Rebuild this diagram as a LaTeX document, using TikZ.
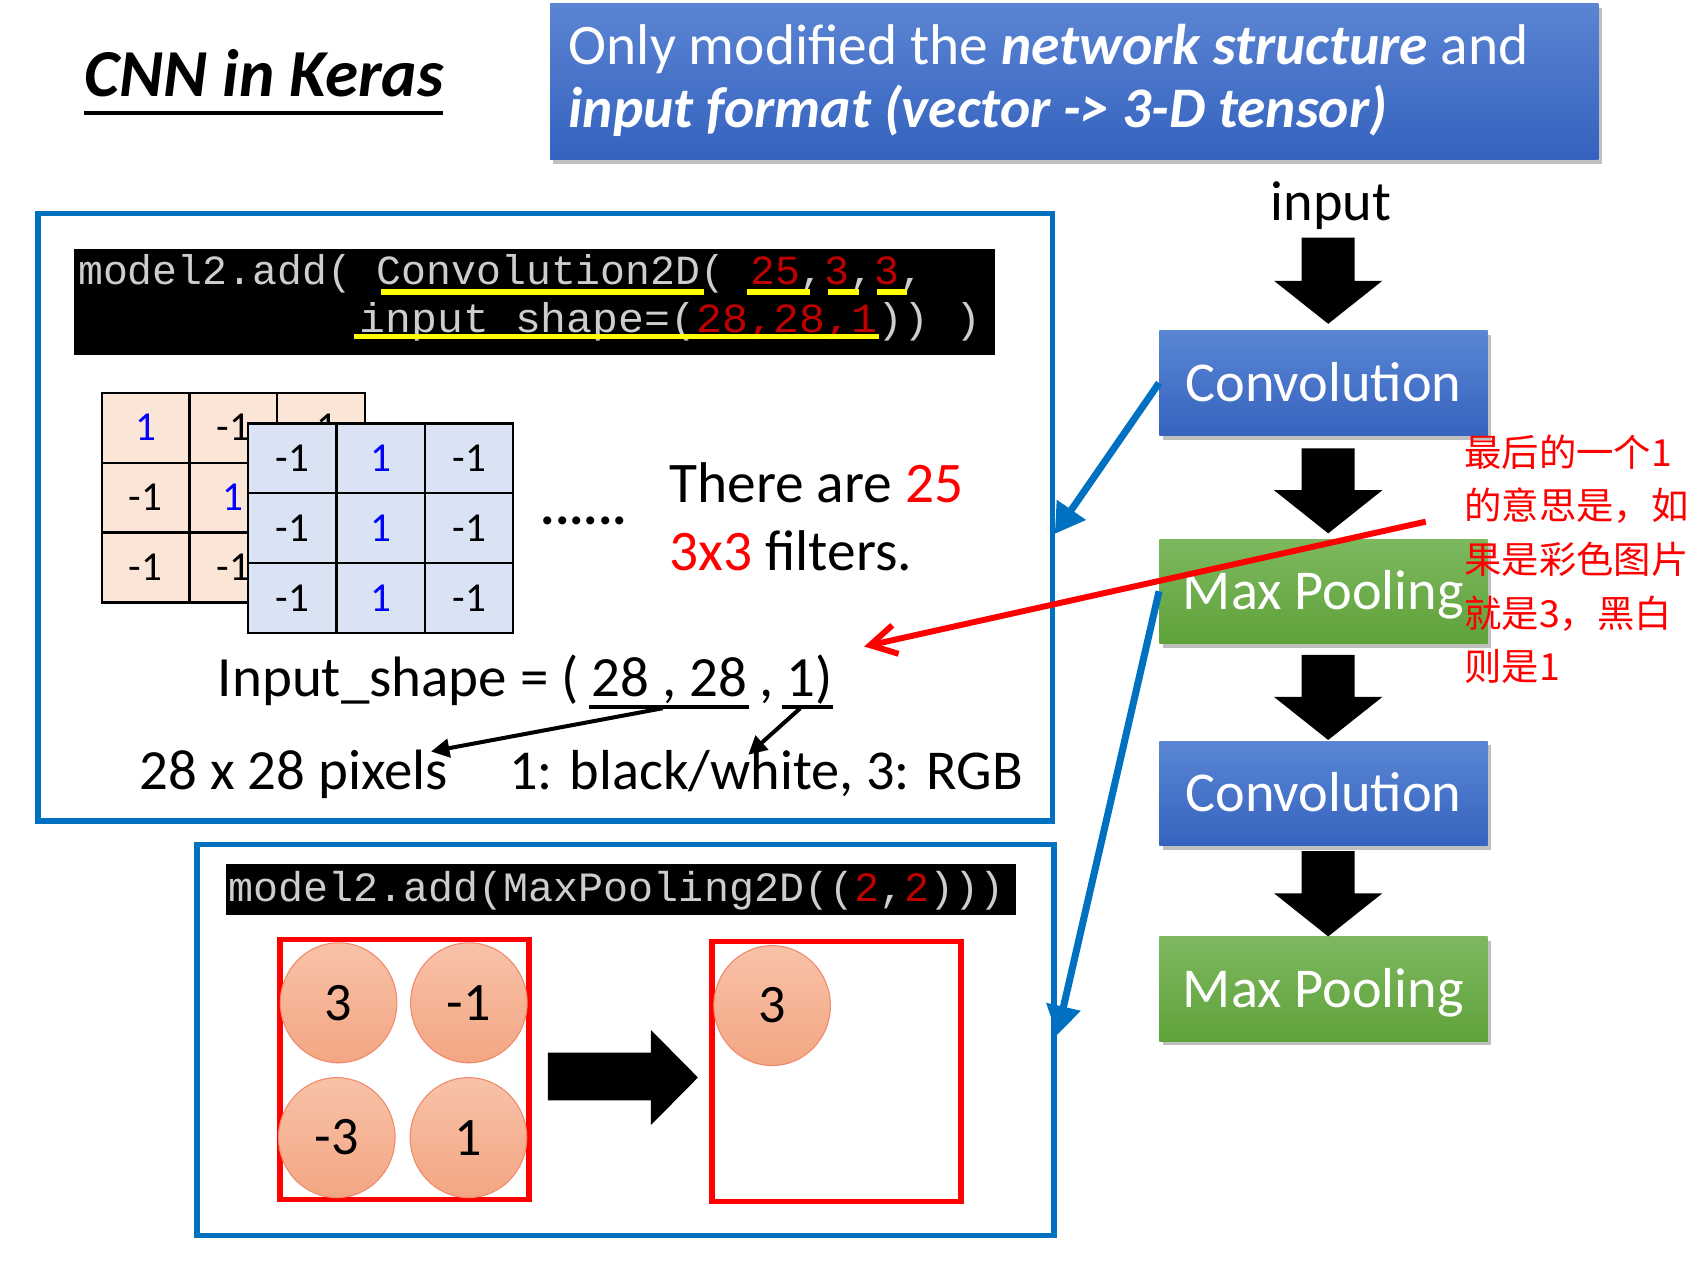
\documentclass[tikz,border=0pt]{standalone}
\usepackage{graphicx}
\usepackage{fontspec}
\setmainfont{Carlito}
\newfontfamily\codefont{Liberation Mono}
\newfontfamily\cjkfont{Noto Sans CJK SC}
\usetikzlibrary{arrows.meta,shapes.geometric,shadows}
\newcommand\myfs[1]{\fontsize{#1}{#1}\selectfont}
\definecolor{panelblue}{HTML}{0070C0}
\definecolor{bluetop}{HTML}{5A86D4}
\definecolor{bluebot}{HTML}{3663BE}
\definecolor{greentop}{HTML}{7DB85F}
\definecolor{greenbot}{HTML}{5FA23A}
\definecolor{hdrtop}{HTML}{5B84D2}
\definecolor{hdrbot}{HTML}{3462BF}
\definecolor{peach}{HTML}{FBE5D6}
\definecolor{lightblue}{HTML}{DAE3F3}
\definecolor{codegray}{HTML}{CDCDCD}
\definecolor{codered}{HTML}{C00000}
\definecolor{elltop}{HTML}{F8C2A8}
\definecolor{ellbot}{HTML}{F3A683}
\definecolor{elldraw}{HTML}{F08A6A}
\definecolor{yellowline}{HTML}{FFFF00}
\newcommand\blkdown[3]{\fill (1202,#1) -- (1251,#1) -- (1251,#2) -- (1276.5,#2) -- (1226.5,#3) -- (1176.5,#2) -- (1202,#2) -- cycle;}
\newcommand\cellval[1]{\ifnum#1=1 \textcolor{blue}{1}\else #1\fi}
\begin{document}
\begin{tikzpicture}[x=1pt,y=-1pt,
  txt/.style={inner sep=0pt, anchor=base west},
  panel/.style={draw=panelblue, line width=5.2pt},
  flowbox/.style={minimum width=303.2pt, minimum height=96.5pt, inner sep=0pt, text=white,
     font=\myfs{52}, text height=34pt, text depth=0pt,
     drop shadow={shadow xshift=3pt, shadow yshift=-4pt, fill=black, opacity=0.25}},
  convbox/.style={flowbox, top color=bluetop, bottom color=bluebot},
  poolbox/.style={flowbox, top color=greentop, bottom color=greenbot},
  cellA/.style={draw=black, line width=2pt, fill=peach, minimum width=81pt, minimum height=64.6pt, inner sep=0pt, font=\myfs{38}},
  cellB/.style={draw=black, line width=2pt, fill=lightblue, minimum width=81.7pt, minimum height=64.6pt, inner sep=0pt, font=\myfs{38}},
  ell/.style={ellipse, draw=elldraw, line width=1pt, top color=elltop, bottom color=ellbot, minimum width=107.6pt, minimum height=110.8pt, inner sep=0pt, font=\myfs{50}},
  bluearrow/.style={draw=panelblue, line width=6.5pt, -{Triangle[length=27pt,width=31pt]}},
  blackarrow/.style={draw=black, line width=3.7pt, -{Triangle[length=17pt,width=17pt]}},
  code/.style={txt, text=codegray, font=\codefont\myfs{38.3}},
  zh/.style={txt, text=red, font=\cjkfont\myfs{34.5}}
]
\useasboundingbox (0,0) rectangle (1568,1167);

% title
\node[txt, font=\myfs{62}\bfseries\itshape] (title) at (78,89.3) {CNN in Keras};
\draw[line width=3pt] (title.base west) ++(0,15) -- ++(331.5,0);

% header box
\node[minimum width=968pt, minimum height=144pt, inner sep=0pt, top color=hdrtop, bottom color=hdrbot,
  drop shadow={shadow xshift=3pt, shadow yshift=-4pt, fill=black, opacity=0.25}] (hdr) at (992,75) {};
\node[txt, text=white, font=\myfs{53}] (hdr1) at (525,60) {Only modified the \textbf{\textit{network structure}} and};
\node[txt, text=white, font=\myfs{53}\bfseries\itshape] (hdr2) at (525,118) {input format (vector -> 3-D tensor)};

% panels
\node[panel, minimum width=937pt, minimum height=561pt, inner sep=0pt] (p1) at (503.5,477.5) {};
\node[panel, minimum width=791pt, minimum height=361pt, inner sep=0pt] (p2) at (577.5,960.5) {};

% code box 1
\fill (68,230) rectangle (919,328);
\node[code] (code1a) at (72,263) {model2.add( Convolution2D( \textcolor{codered}{25},\textcolor{codered}{3},\textcolor{codered}{3},};
\node[code] (code1b) at (332,307) {\scalebox{1.04}[1]{input\_shape=(\textcolor{codered}{28,28,1})) )}};
\fill[yellowline] (352,267) rectangle (650,272.5);
\fill[yellowline] (690,267) rectangle (748,272.5);
\fill[yellowline] (765,267) rectangle (793,272.5);
\fill[yellowline] (810,267) rectangle (838,272.5);
\fill[yellowline] (327,308) rectangle (812,313.5);

% filter matrices
\foreach \r/\row in {0/{1,-1,-1},1/{-1,1,-1},2/{-1,-1,1}}{
  \foreach \v [count=\c from 0] in \row {
    \node[cellA] (ma-\r-\c) at (134.5+81*\c, 394.9+64.6*\r) {\cellval{\v}};
  }
}
\foreach \r in {0,1,2}{
  \foreach \v [count=\c from 0] in {-1,1,-1} {
    \node[cellB] (mb-\r-\c) at (269.85+81.7*\c, 423.3+64.6*\r) {\cellval{\v}};
  }
}
\node[txt, font=\myfs{50}\bfseries] (dots) at (499,484) {......};
\node[txt, font=\myfs{53}] (there) at (618,464) {There are \textcolor{red}{25}};
\node[txt, font=\myfs{53}] (filters) at (618,527) {\textcolor{red}{3x3} filters.};

% input shape
\node[txt, font=\myfs{52.6}] (ishape) at (201,643.6) {Input\_shape = ( 28 , 28 , 1)};
\draw[line width=3.5pt] (544,652.5) -- (692,652.5);
\draw[line width=3.5pt] (722,652.5) -- (769,652.5);
\node[txt, font=\myfs{52.5}] (pix) at (129,729.5) {28 x 28 pixels};
\node[txt, font=\myfs{52}] (bw) at (470,729.5) {1: black/white, 3: RGB};
\coordinate (u1) at (612,654);
\coordinate (u2) at (739,654);
\coordinate (a1) at (398,694);
\coordinate (a2) at (691,697);
\draw[blackarrow] (u1) -- (a1);
\draw[blackarrow] (u2) -- (a2);

% code box 2
\fill (209,798) rectangle (938,845);
\node[code, font=\codefont\myfs{38.5}] (code2) at (211,832.6) {model2.add(MaxPooling2D((\textcolor{codered}{2},\textcolor{codered}{2})))};

% pooling
\draw[red, line width=5pt] (258.5,867.5) rectangle (488.5,1107.5);
\draw[red, line width=5pt] (657.5,869.5) rectangle (887.5,1109.5);
\node[ell] (e1) at (312.7,926) {3};
\node[ell] (e2) at (433,926) {-1};
\node[ell] (e3) at (311,1050.5) {-3};
\node[ell] (e4) at (432.6,1050.5) {1};
\node[ell] (e5) at (713,928.6) {3};
\fill (506,972) -- (601,972) -- (601,951) -- (644.5,995) -- (601,1039) -- (601,1016) -- (506,1016) -- cycle;

% right column
\node[anchor=base, inner sep=0pt, font=\myfs{52}] (input) at (1229,203.6) {input};
\node[convbox] (conv1) at (1222.1,353.65) {Convolution};
\node[poolbox] (mp1) at (1222.1,546) {Max Pooling};
\node[convbox] (conv2) at (1222.1,732.65) {Convolution};
\node[poolbox] (mp2) at (1222.1,913.15) {Max Pooling};
\blkdown{219.5}{259.3}{299}
\blkdown{414}{452.7}{492.5}
\blkdown{604.8}{643.6}{683.3}
\blkdown{786}{824.9}{864.7}

% connectors
\coordinate (t1) at (974,493);
\coordinate (t2) at (976,956);
\draw[bluearrow] (conv1.west) -- (t1);
\draw[bluearrow] (mp1.west) -- (t2);
\coordinate (r0) at (1316.6,481.7);
\coordinate (r1) at (798,597);
\draw[red, line width=5.5pt, -{Straight Barb[length=24pt,width=27pt]}] (r0) -- (r1);

% chinese note
\node[zh] (zh1) at (1352,431) {最后的一个1};
\node[zh] (zh2) at (1352,480) {的意思是，如};
\node[zh] (zh3) at (1352,529.5) {果是彩色图片};
\node[zh] (zh4) at (1352,579) {就是3，黑白};
\node[zh] (zh5) at (1352,628) {则是1};
\end{tikzpicture}
\end{document}
